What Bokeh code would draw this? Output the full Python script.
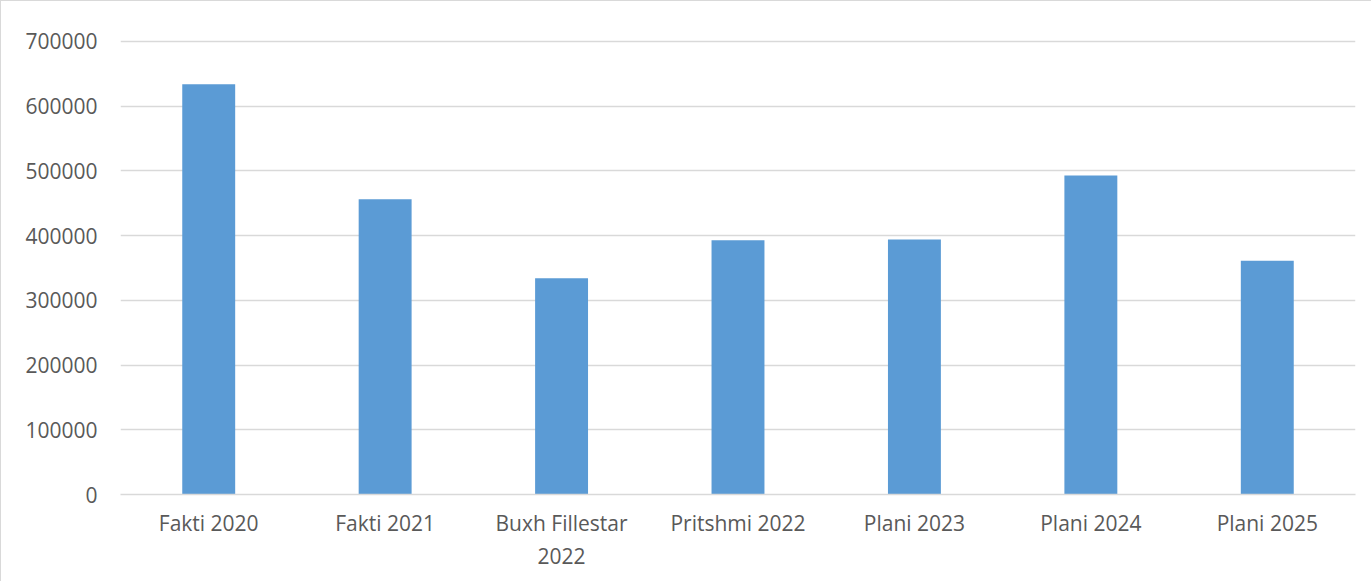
from bokeh.plotting import figure
from bokeh.models import Range1d, FactorRange, ColumnDataSource, SingleIntervalTicker
from bokeh.embed import file_html
from bokeh.resources import INLINE

categories = ["Fakti 2020", "Fakti 2021", "Buxh Fillestar\n2022", "Pritshmi 2022",
              "Plani 2023", "Plani 2024", "Plani 2025"]
values = [634000, 456000, 334000, 393000, 394000, 493000, 361000]

src = ColumnDataSource(dict(cat=categories, val=values))

p = figure(width=1371, height=581, x_range=FactorRange(*categories, range_padding=0),
           y_range=Range1d(0, 703000), output_backend="svg", toolbar_location=None,
           min_border_left=119, min_border_right=17, min_border_top=38, min_border_bottom=88)
p.styles = {"border-left": "1px solid #d9d9d9", "border-top": "1px solid #d9d9d9"}
p.outline_line_color = None

p.vbar(x="cat", top="val", width=0.3, source=src, fill_color="#5B9BD5", line_color=None)

p.yaxis.ticker = SingleIntervalTicker(interval=100000)
p.yaxis.formatter.use_scientific = False
p.yaxis.axis_line_color = None
p.yaxis.major_tick_line_color = None
p.yaxis.minor_tick_line_color = None
p.yaxis.major_label_standoff = 17
p.ygrid.grid_line_color = "#d9d9d9"
p.ygrid.grid_line_width = 1.5
p.xgrid.grid_line_color = None

p.xaxis.axis_line_color = "#d9d9d9"
p.xaxis.axis_line_width = 1.5
p.xaxis.major_tick_line_color = None
p.xaxis.major_label_standoff = 8

for ax in (p.xaxis[0], p.yaxis[0]):
    ax.major_label_text_font = "Open Sans"
    ax.major_label_text_font_size = "21px"
    ax.major_label_text_color = "#595959"

open("out.html", "w").write(file_html(p, INLINE))
